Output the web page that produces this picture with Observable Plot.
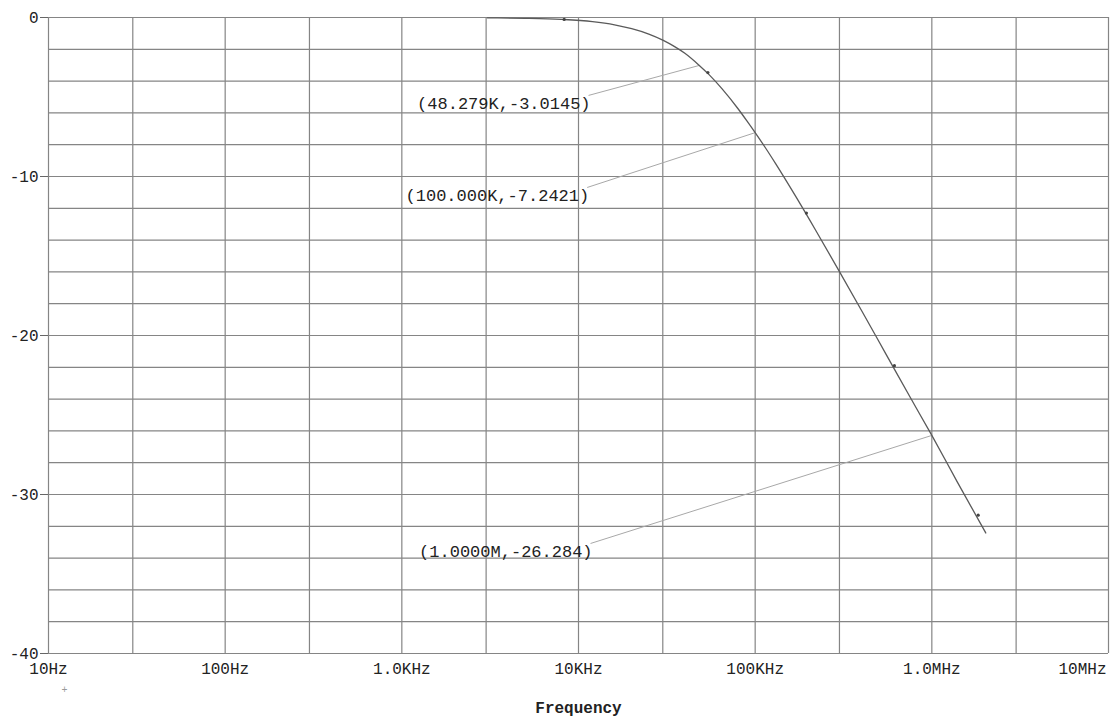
<!DOCTYPE html>
<html>
<head>
<meta charset="utf-8">
<script src="https://cdn.jsdelivr.net/npm/d3@7"></script>
<script src="https://cdn.jsdelivr.net/npm/@observablehq/plot@0.6"></script>
<style>
  html, body { margin: 0; padding: 0; background: #fff; }
  #chart svg { display: block; }
</style>
</head>
<body>
<div id="chart"></div>
<script>
// Response curve (frequency in Hz, gain in dB)
const freq = [3.05e3, 5e3, 8e3, 1.2e4, 1.6e4, 2e4, 2.5e4, 3e4, 3.5e4, 4e4, 4.8279e4, 5.5e4, 6.5e4, 8e4, 9e4, 1e5, 1.15e5, 1.3e5, 1.7e5, 2.2e5, 3e5, 4e5, 5.5e5, 7.5e5, 1e6, 1.4e6, 2.02e6];
const gain = [-0.02, -0.05, -0.12, -0.26, -0.46, -0.7, -1.04, -1.42, -1.83, -2.25, -3.0145, -3.61, -4.49, -5.74, -6.52, -7.2421, -8.24, -9.16, -11.27, -13.38, -15.98, -18.43, -21.17, -23.84, -26.284, -29.25, -32.42];

// Trace markers along the curve
const markerFreq = [8.3e3, 5.4e4, 1.95e5, 6.14e5, 1.83e6];
const markerGain = [-0.12, -3.46, -12.3, -21.9, -31.3];

// Cursor annotations
const annoFreq = [4.8279e4, 1e5, 1e6];
const annoGain = [-3.0145, -7.2421, -26.284];
const annoLabel = ["(48.279K,-3.0145)", "(100.000K,-7.2421)", "(1.0000M,-26.284)"];
const annoLabelFreq = [1.14e4, 1.12e4, 1.17e4];
const annoLabelGain = [-4.9, -10.69, -33.08];

// Axes and grid
const xTicks = [10, 100, 1e3, 1e4, 1e5, 1e6, 1e7];
const xTickLabels = ["10Hz", "100Hz", "1.0KHz", "10KHz", "100KHz", "1.0MHz", "10MHz"];
const xGrid = [10, 30, 100, 300, 1e3, 3e3, 1e4, 3e4, 1e5, 3e5, 1e6, 3e6, 1e7];
const yTicks = [0, -10, -20, -30, -40];
const yGrid = d3.range(0, -41, -2);
const xLabel = "Frequency";

const curve = freq.map((f, i) => ({f, g: gain[i]}));
const markers = markerFreq.map((f, i) => ({f, g: markerGain[i]}));
const annos = annoFreq.map((f, i) => ({f, g: annoGain[i], lf: annoLabelFreq[i], lg: annoLabelGain[i], text: annoLabel[i]}));
const labelMap = new Map(xTicks.map((t, i) => [t, xTickLabels[i]]));

const font = "'Liberation Mono', 'DejaVu Sans Mono', monospace";

const chart = Plot.plot({
  width: 1112,
  height: 722,
  marginLeft: 48,
  marginRight: 4,
  marginTop: 17,
  marginBottom: 69,
  style: {fontFamily: font, fontSize: "16px", color: "#222", background: "#fff"},
  x: {type: "log", domain: [10, 1e7]},
  y: {domain: [-40, 0]},
  marks: [
    Plot.ruleX(xGrid, {x: d => d, y1: -40, y2: 0, stroke: "#858585", strokeWidth: 1.2}),
    Plot.ruleY(yGrid, {y: d => d, x1: 10, x2: 1e7, stroke: "#858585", strokeWidth: 1.2}),
    Plot.link(annos, {x1: "lf", y1: "lg", x2: "f", y2: "g", stroke: "#a8a8a8", strokeWidth: 1}),
    Plot.line(curve, {x: "f", y: "g", curve: "monotone-x", stroke: "#5a5a5a", strokeWidth: 1.3}),
    Plot.dot(markers, {x: "f", y: "g", r: 1.6, fill: "#444", stroke: "none"}),
    Plot.text(annos, {x: "lf", y: "lg", text: "text", textAnchor: "end", dx: 2, dy: 8, fontSize: 17, fill: "#222"}),
    Plot.axisY({ticks: yTicks, tickSize: 8, tickPadding: 2, tickFormat: d => String(d), fontSize: 16, stroke: "#666", label: null}),
    Plot.axisX({ticks: xTicks.slice(0, -1), tickSize: 0, tickPadding: 9, tickFormat: d => labelMap.get(d), fontSize: 16, label: null}),
    Plot.axisX({ticks: xTicks.slice(-1), tickSize: 0, tickPadding: 9, tickFormat: d => labelMap.get(d), textAnchor: "end", dx: -2, fontSize: 16, label: null}),
    Plot.text([xLabel], {frameAnchor: "bottom", text: d => d, dy: 59, fontSize: 16, fontWeight: "bold", fill: "#222"}),
    Plot.text(["+"], {x: 12.3, y: -42.3, text: d => d, fontSize: 10, fill: "#999"})
  ]
});
document.getElementById("chart").appendChild(chart);
</script>
</body>
</html>
